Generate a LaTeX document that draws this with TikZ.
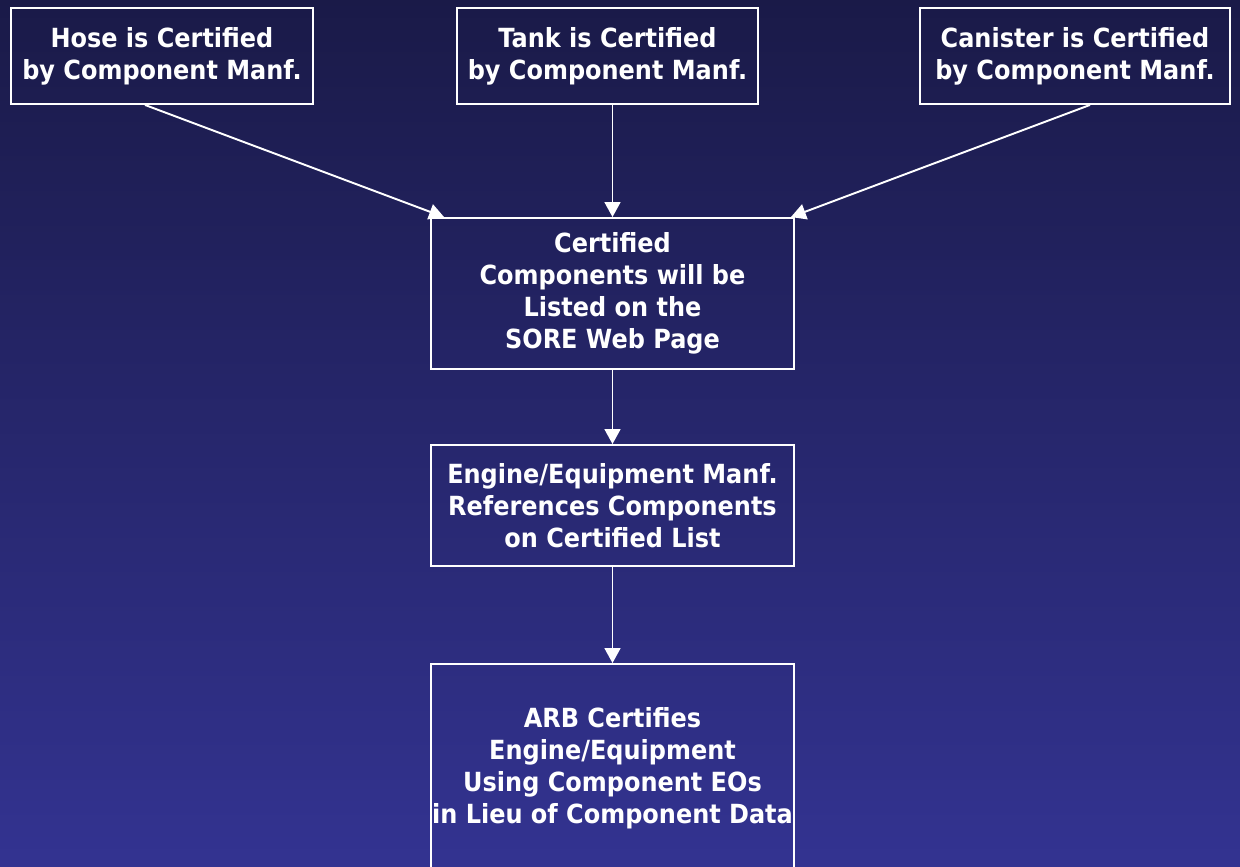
\documentclass[tikz,border=0pt]{standalone}
\usepackage{fontspec}
\setmainfont{DejaVu Sans}[FakeStretch=0.91]
\usetikzlibrary{positioning,arrows.meta}

\definecolor{bgtop}{RGB}{26,26,72}
\definecolor{bgbottom}{RGB}{51,51,145}

\begin{document}
\begin{tikzpicture}[
        x=0.02cm, y=-0.02cm,
        % define styles
        stepbox/.style={
            draw=white,
            line width=1.1pt,
            fill=none,
            text=white,
            inner sep=0pt,
            align=center,
            font=\fontsize{15}{18.2}\selectfont\bfseries,
            execute at begin node={\rule{0pt}{16pt}}
        },
        flow/.style={
            draw=white,
            line width=1.1pt,
            ->
        },
        >={Triangle[length=8.5pt,width=9pt]}
    ]
    % background and page size
    \shade[top color=bgtop, bottom color=bgbottom] (0,0) rectangle (1240,866);
    \clip (0,0) rectangle (1240,866);

    % component boxes on top row
    \node[stepbox, minimum width=6.04cm, minimum height=1.92cm] (hose) at (162,56)
        {Hose is Certified\\by Component Manf.};
    \node[stepbox, minimum width=6.02cm, minimum height=1.92cm] (tank) at (607.5,56)
        {Tank is Certified\\by Component Manf.};
    \node[stepbox, minimum width=6.2cm, minimum height=1.92cm] (canister) at (1075,56)
        {Canister is Certified\\by Component Manf.};

    % chain of boxes in the middle
    \node[stepbox, minimum width=7.26cm, minimum height=3.02cm] (sore) at (612.5,293.5)
        {Certified\\Components will be\\ Listed on the\\SORE Web Page};
    \node[stepbox, minimum width=7.26cm, minimum height=2.42cm] (engine) at (612.5,505.5)
        {Engine/Equipment Manf.\\References Components\\ on Certified List};
    \node[stepbox, minimum width=7.26cm, minimum height=4.16cm] (arb) at (612.5,768)
        {ARB Certifies\\ Engine/Equipment\\ Using Component EOs\\in Lieu of Component Data};

    % lines from components into the list
    \draw[flow] ([xshift=-0.34cm]hose.south) -- ([xshift=0.28cm]sore.north west);
    \draw[flow] (tank.south -| sore.north) -- (sore.north);
    \draw[flow] ([xshift=0.3cm]canister.south) -- ([xshift=-0.08cm]sore.north east);

    % lines down the chain
    \draw[flow] (sore) -- (engine);
    \draw[flow] (engine) -- (arb);
\end{tikzpicture}
\end{document}
